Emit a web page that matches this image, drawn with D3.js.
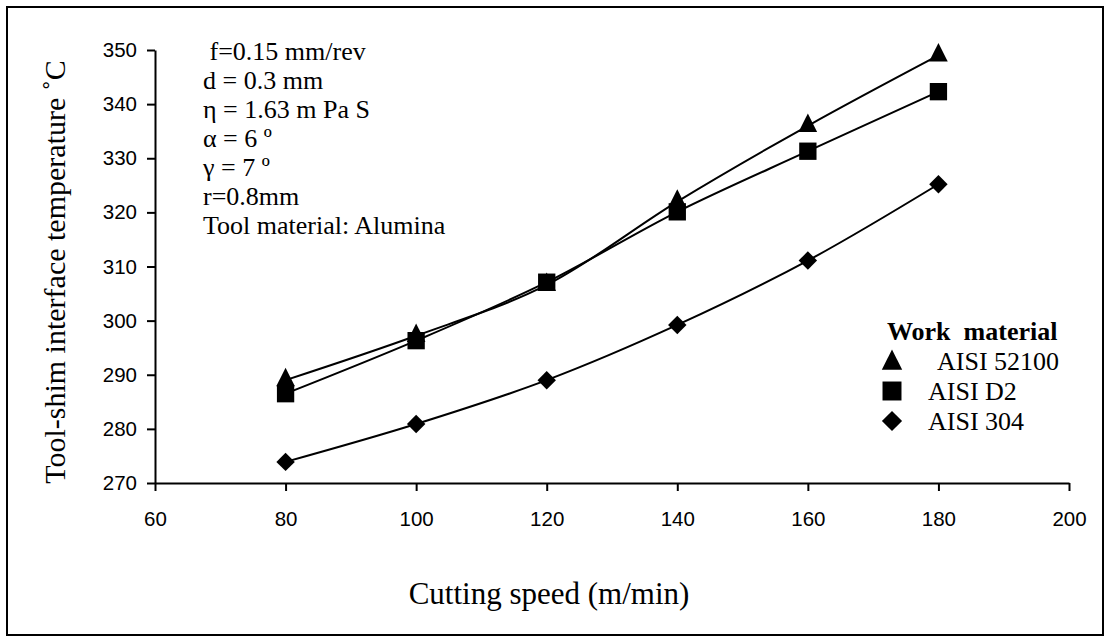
<!DOCTYPE html>
<html>
<head>
<meta charset="utf-8">
<script src="https://cdn.jsdelivr.net/npm/d3@7"></script>
<style>
  body { margin: 0; background: #fff; }
  .tick text { font-family: "Liberation Sans", Arial, sans-serif; font-size: 20.5px; fill: #000; }
  .serif { font-family: "Liberation Serif", "Times New Roman", serif; fill: #000; }
</style>
</head>
<body>
<div id="chart"></div>
<script>
// chart data
var speeds = [80, 100, 120, 140, 160, 180];
var aisi52100 = [289, 297.2, 306.6, 322, 336, 349];
var aisiD2 = [286.5, 296.3, 307.1, 320.1, 331.3, 342.3];
var aisi304 = [273.9, 280.9, 289, 299.2, 311.1, 325.2];
var xTicks = [60, 80, 100, 120, 140, 160, 180, 200];
var yTicks = [270, 280, 290, 300, 310, 320, 330, 340, 350];
var seriesNames = ["AISI 52100", "AISI D2", "AISI 304"];
var notes = [" f=0.15 mm/rev", "d = 0.3 mm", "\u03b7 = 1.63 m Pa S", "\u03b1 = 6 \u00ba",
             "\u03b3 = 7 \u00ba", "r=0.8mm", "Tool material: Alumina"];

var svgWidth = 1105;
var svgHeight = 638;

var svg = d3.select("#chart")
  .append("svg")
  .attr("width", svgWidth)
  .attr("height", svgHeight);

// outer frame
svg.append("rect")
  .attr("x", 7).attr("y", 7)
  .attr("width", 1096).attr("height", 628)
  .attr("fill", "none")
  .attr("stroke", "#000")
  .attr("stroke-width", 2);

var xScale = d3.scaleLinear().domain([60, 200]).range([155, 1069]);
var yScale = d3.scaleLinear().domain([270, 350]).range([483, 50]);

// axes
var bottomAxis = d3.axisBottom(xScale).tickValues(xTicks).tickSize(8).tickSizeOuter(0).tickPadding(20);
var leftAxis = d3.axisLeft(yScale).tickValues(yTicks).tickSize(8).tickSizeOuter(0).tickPadding(10);

var gx = svg.append("g")
  .attr("transform", "translate(0," + yScale(270) + ")")
  .call(bottomAxis);
var gy = svg.append("g")
  .attr("transform", "translate(" + xScale(60) + ",0)")
  .call(leftAxis);

[gx, gy].forEach(function(g) {
  g.select(".domain").attr("stroke", "#000").attr("stroke-width", 2);
  g.selectAll(".tick line").attr("stroke", "#000").attr("stroke-width", 2);
});

// series
var series = [
  {name: seriesNames[0], values: aisi52100, symbol: d3.symbolTriangle, size: 150, rot: 0, sy: 1.15},
  {name: seriesNames[1], values: aisiD2, symbol: d3.symbolSquare, size: 300, rot: 0, sy: 1},
  {name: seriesNames[2], values: aisi304, symbol: d3.symbolSquare, size: 170, rot: 45, sy: 1}
];

var line = d3.line()
  .x(function(d, i) { return xScale(speeds[i]); })
  .y(function(d) { return yScale(d); })
  .curve(d3.curveCatmullRom.alpha(0.5));

series.forEach(function(s) {
  svg.append("path")
    .datum(s.values)
    .attr("d", line)
    .attr("fill", "none")
    .attr("stroke", "#000")
    .attr("stroke-width", 2);
});

series.forEach(function(s) {
  svg.selectAll(null)
    .data(s.values)
    .enter()
    .append("path")
    .attr("d", d3.symbol().type(s.symbol).size(s.size))
    .attr("transform", function(d, i) {
      return "translate(" + xScale(speeds[i]) + "," + yScale(d) + ") scale(1," + s.sy + ") rotate(" + s.rot + ")";
    })
    .attr("fill", "#000");
});

// notes
svg.append("g").selectAll("text")
  .data(notes)
  .enter()
  .append("text")
  .attr("class", "serif")
  .attr("x", 203)
  .attr("y", function(d, i) { return 60 + i * 29; })
  .attr("font-size", "26px")
  .attr("xml:space", "preserve")
  .text(function(d) { return d; });

// legend
var legend = svg.append("g");
legend.append("text")
  .attr("class", "serif")
  .attr("x", 887).attr("y", 340)
  .attr("font-size", "26px")
  .attr("font-weight", "bold")
  .attr("xml:space", "preserve")
  .text("Work  material");

var legendY = [363, 391, 421];
series.forEach(function(s, i) {
  legend.append("path")
    .attr("d", d3.symbol().type(s.symbol).size(s.size * 1.2))
    .attr("transform", "translate(892," + legendY[i] + ") scale(1," + s.sy + ") rotate(" + s.rot + ")")
    .attr("fill", "#000");
  legend.append("text")
    .attr("class", "serif")
    .attr("x", i === 0 ? 937 : 928)
    .attr("y", 370 + i * 30)
    .attr("font-size", "26px")
    .text(s.name);
});

// axis titles
svg.append("text")
  .attr("class", "serif")
  .attr("text-anchor", "middle")
  .attr("x", 549).attr("y", 604)
  .attr("font-size", "31px")
  .text("Cutting speed (m/min)");

svg.append("text")
  .attr("class", "serif")
  .attr("text-anchor", "middle")
  .attr("transform", "translate(65,272) rotate(-90)")
  .attr("font-size", "30px")
  .text("Tool-shim interface temperature \u02daC");
</script>
</body>
</html>
